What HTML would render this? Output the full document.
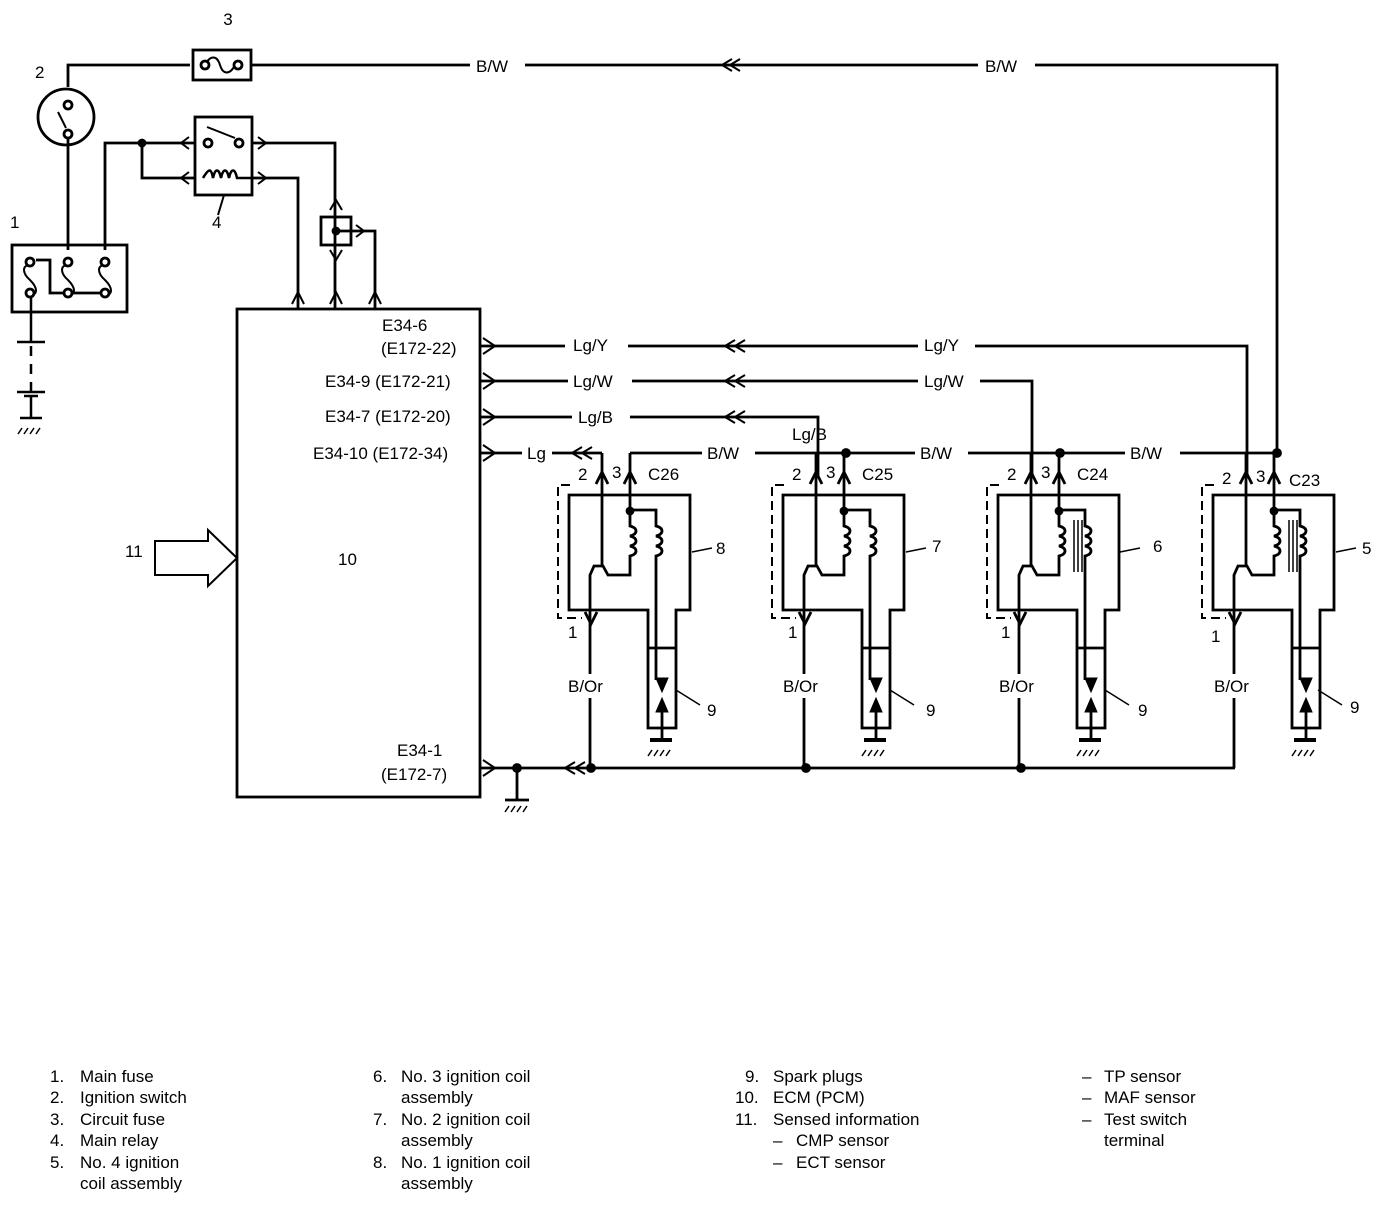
<!DOCTYPE html>
<html><head><meta charset="utf-8"><style>
html,body{margin:0;padding:0;background:#fff}
svg{display:block}
text{font-family:"Liberation Sans",Arial,sans-serif;fill:#000}
.lg{font-size:17px}
</style></head><body>
<svg width="1392" height="1206" viewBox="0 0 1392 1206" xmlns="http://www.w3.org/2000/svg">
<defs>
<g id="coil" fill="none" stroke="#000" stroke-width="2.8">
  <path d="M569,495 H690 V610 H676 V728 H648 V610 H569 Z"/>
  <line x1="648" y1="648" x2="676" y2="648"/>
  <path d="M570,485 H558 V618 H582" stroke-dasharray="9,5" stroke-width="2"/>
  <line x1="602" y1="453" x2="602" y2="566"/>
  <path d="M596,484 L602,472 L608,484"/>
  <path d="M624,484 L630,472 L636,484"/>
  <path d="M630,453 V526 c8,2 8,8 0,10 c8,2 8,8 0,10 c8,2 8,8 0,10 V575 H608 L603,566 H594 L590,575 V768"/>
  <path d="M630,510 H656 V526 c8,2 8,8 0,10 c8,2 8,8 0,10 c8,2 8,8 0,10 V680"/>
  <path d="M585,612 L591,624 L597,612"/>
  <path d="M656,678 L662,692 L668,678 Z" fill="#000" stroke-width="1"/>
  <path d="M656,712 L662,698 L668,712 Z" fill="#000" stroke-width="1"/>
  <line x1="662" y1="710" x2="662" y2="738"/>
  <line x1="650" y1="740" x2="672" y2="740" stroke-width="4"/>
  <path d="M652,750 l-4,6 M658,750 l-4,6 M664,750 l-4,6 M670,750 l-4,6" stroke-width="1.5"/>
  <circle cx="630" cy="511" r="3" fill="#000"/>
  <rect x="566" y="674" width="50" height="24" fill="#fff" stroke="none"/>
</g>
</defs>
<g fill="none" stroke="#000" stroke-width="2.8">
  <path d="M68,87 V65 H190 M252,65 H470 M525,65 H978 M1035,65 H1277 V453"/>
  <rect x="193" y="50" width="58" height="30"/>
  <path d="M205,65 c5,-10 12,-10 15,0 c3,10 10,10 15,0" stroke-width="2"/>
  <circle cx="205" cy="65" r="4" fill="#fff"/><circle cx="238" cy="65" r="4" fill="#fff"/>
  <path d="M740,59 L730,65 L740,71 M732,59 L722,65 L732,71" stroke-width="2"/>
  <circle cx="66" cy="117" r="28"/>
  <circle cx="68" cy="105" r="4" fill="#fff"/><circle cx="68" cy="134" r="4" fill="#fff"/>
  <line x1="58" y1="112" x2="66" y2="128" stroke-width="2"/>
  <path d="M68,138 V250"/>
  <rect x="12" y="245" width="115" height="67"/>
  <path d="M30,265 c-8,0 -8,8 0,15 c8,8 8,15 0,15 M68,265 c-8,0 -8,8 0,15 c8,8 8,15 0,15 M105,265 c-8,0 -8,8 0,15 c8,8 8,15 0,15" stroke-width="2"/>
  <path d="M36,260 H50 V293 H104 M105,250 V143 H195"/>
  <circle cx="30" cy="262" r="4" fill="#fff"/><circle cx="30" cy="293" r="4" fill="#fff"/>
  <circle cx="68" cy="262" r="4" fill="#fff"/><circle cx="68" cy="293" r="4" fill="#fff"/>
  <circle cx="105" cy="262" r="4" fill="#fff"/><circle cx="105" cy="293" r="4" fill="#fff"/>
  <path d="M31,297 V342 M17,342 H45 M31,346 V356 M31,364 V374 M31,382 V392 M17,392 H45 M24,396 H38 M31,396 V418 M20,418 H42" stroke-width="2.5"/>
  <path d="M22,428 l-4,6 M28,428 l-4,6 M34,428 l-4,6 M40,428 l-4,6" stroke-width="1.5"/>
  <rect x="195" y="117" width="57" height="78"/>
  <path d="M142,143 V178 H195"/>
  <circle cx="142" cy="143" r="3" fill="#000"/>
  <circle cx="208" cy="143" r="4" fill="#fff"/><circle cx="239" cy="143" r="4" fill="#fff"/>
  <line x1="207" y1="127" x2="235" y2="138" stroke-width="2"/>
  <path d="M203,178 c6,-10 8,-10 10,0 c2,-10 6,-10 8,0 c2,-10 6,-10 8,0 c2,-10 6,-10 8,0 H252" stroke-width="2.5"/>
  <path d="M189,137 L181,143 L189,149 M189,172 L181,178 L189,184 M258,137 L266,143 L258,149 M258,172 L266,178 L258,184" stroke-width="2"/>
  <path d="M252,143 H335 V309 M252,178 H298 V309"/>
  <path d="M224,195 L218,215" stroke-width="2"/>
  <rect x="321" y="217" width="30" height="28"/>
  <circle cx="336" cy="231" r="3" fill="#000"/>
  <path d="M336,231 H375 V309"/>
  <path d="M330,210 L336,200 L342,210 M330,250 L336,260 L342,250 M356,225 L364,231 L356,237" stroke-width="2"/>
  <path d="M292,304 L298,292 L304,304 M330,304 L336,292 L342,304 M369,304 L375,292 L381,304" stroke-width="2"/>
  <rect x="237" y="309" width="243" height="488"/>
  <path d="M483,338 L495,346 L483,354 M483,373 L495,381 L483,389 M483,409 L495,417 L483,425 M483,445 L495,453 L483,461 M483,760 L495,768 L483,776" stroke-width="2"/>
  <path d="M155,541 H208 V530 L237,558 L208,586 V575 H155 Z" stroke-width="2"/>
  <path d="M480,346 H565 M628,346 H918 M975,346 H1247 V478"/>
  <path d="M480,381 H568 M632,381 H918 M980,381 H1032 V478"/>
  <path d="M480,417 H572 M630,417 H818 V478"/>
  <path d="M480,453 H522 M552,453 H602"/>
  <path d="M630,453 H702 M755,453 H915 M968,453 H1125 M1180,453 H1277"/>
  <path d="M735,340 L725,346 L735,352 M745,340 L735,346 L745,352 M735,375 L725,381 L735,387 M745,375 L735,381 L745,387 M735,411 L725,417 L735,423 M745,411 L735,417 L745,423 M582,447 L572,453 L582,459 M592,447 L582,453 L592,459" stroke-width="2"/>
  <path d="M480,768 H1235"/>
  <path d="M575,762 L565,768 L575,774 M585,762 L575,768 L585,774" stroke-width="2"/>
  <path d="M517,768 V800 M505,800 H529"/>
  <path d="M509,806 l-4,6 M515,806 l-4,6 M521,806 l-4,6 M527,806 l-4,6" stroke-width="1.5"/>
  <circle cx="517" cy="768" r="3.5" fill="#000"/>
  <circle cx="591" cy="768" r="3.5" fill="#000"/><circle cx="806" cy="768" r="3.5" fill="#000"/><circle cx="1021" cy="768" r="3.5" fill="#000"/>
  <circle cx="846" cy="453" r="3.5" fill="#000"/><circle cx="1060" cy="453" r="3.5" fill="#000"/><circle cx="1277" cy="453" r="3.5" fill="#000"/>
  <path d="M692,552 L712,548 M906,552 L926,548 M1120,552 L1140,548 M1336,552 L1356,548" stroke-width="1.5"/>
  <path d="M676,690 L700,705 M890,690 L914,705 M1105,690 L1129,705 M1318,690 L1342,705" stroke-width="1.5"/>
  <path d="M1074,520 V572 M1078,520 V572 M1082,520 V572 M1289,520 V572 M1293,520 V572 M1297,520 V572" stroke-width="1.5"/>
</g>
<use href="#coil"/>
<use href="#coil" x="214"/>
<use href="#coil" x="429"/>
<use href="#coil" x="644"/>
<g font-size="17">
<text x="228" y="25" text-anchor="middle">3</text>
<text x="35" y="78">2</text>
<text x="10" y="228">1</text>
<text x="212" y="228">4</text>
<text x="476" y="72">B/W</text>
<text x="985" y="72">B/W</text>
<text x="382" y="331">E34-6</text>
<text x="381" y="354">(E172-22)</text>
<text x="325" y="387">E34-9 (E172-21)</text>
<text x="325" y="422">E34-7 (E172-20)</text>
<text x="313" y="459">E34-10 (E172-34)</text>
<text x="397" y="756">E34-1</text>
<text x="381" y="780">(E172-7)</text>
<text x="125" y="557">11</text>
<text x="338" y="565">10</text>
<text x="573" y="351">Lg/Y</text>
<text x="924" y="351">Lg/Y</text>
<text x="573" y="387">Lg/W</text>
<text x="924" y="387">Lg/W</text>
<text x="578" y="423">Lg/B</text>
<text x="792" y="440">Lg/B</text>
<text x="527" y="459">Lg</text>
<text x="707" y="459">B/W</text>
<text x="920" y="459">B/W</text>
<text x="1130" y="459">B/W</text>
<text x="578" y="480">2</text><text x="612" y="478">3</text><text x="648" y="480">C26</text>
<text x="792" y="480">2</text><text x="826" y="478">3</text><text x="862" y="480">C25</text>
<text x="1007" y="480">2</text><text x="1041" y="478">3</text><text x="1077" y="480">C24</text>
<text x="1222" y="484">2</text><text x="1256" y="482">3</text><text x="1289" y="486">C23</text>
<text x="716" y="554">8</text><text x="932" y="552">7</text><text x="1153" y="552">6</text><text x="1362" y="554">5</text>
<text x="568" y="638">1</text><text x="788" y="638">1</text><text x="1001" y="638">1</text><text x="1211" y="642">1</text>
<text x="568" y="692">B/Or</text><text x="783" y="692">B/Or</text><text x="999" y="692">B/Or</text><text x="1214" y="692">B/Or</text>
<text x="707" y="716">9</text><text x="926" y="716">9</text><text x="1138" y="716">9</text><text x="1350" y="713">9</text>
</g>
<g class="lg">
<text x="50" y="1082">1.</text><text x="80" y="1082">Main fuse</text>
<text x="50" y="1103">2.</text><text x="80" y="1103">Ignition switch</text>
<text x="50" y="1125">3.</text><text x="80" y="1125">Circuit fuse</text>
<text x="50" y="1146">4.</text><text x="80" y="1146">Main relay</text>
<text x="50" y="1168">5.</text><text x="80" y="1168">No. 4 ignition</text>
<text x="80" y="1189">coil assembly</text>
<text x="373" y="1082">6.</text><text x="401" y="1082">No. 3 ignition coil</text>
<text x="401" y="1103">assembly</text>
<text x="373" y="1125">7.</text><text x="401" y="1125">No. 2 ignition coil</text>
<text x="401" y="1146">assembly</text>
<text x="373" y="1168">8.</text><text x="401" y="1168">No. 1 ignition coil</text>
<text x="401" y="1189">assembly</text>
<text x="745" y="1082">9.</text><text x="773" y="1082">Spark plugs</text>
<text x="735" y="1103">10.</text><text x="773" y="1103">ECM (PCM)</text>
<text x="735" y="1125">11.</text><text x="773" y="1125">Sensed information</text>
<text x="773" y="1146">–</text><text x="796" y="1146">CMP sensor</text>
<text x="773" y="1168">–</text><text x="796" y="1168">ECT sensor</text>
<text x="1082" y="1082">–</text><text x="1104" y="1082">TP sensor</text>
<text x="1082" y="1103">–</text><text x="1104" y="1103">MAF sensor</text>
<text x="1082" y="1125">–</text><text x="1104" y="1125">Test switch</text>
<text x="1104" y="1146">terminal</text>
</g>
</svg>
</body></html>
